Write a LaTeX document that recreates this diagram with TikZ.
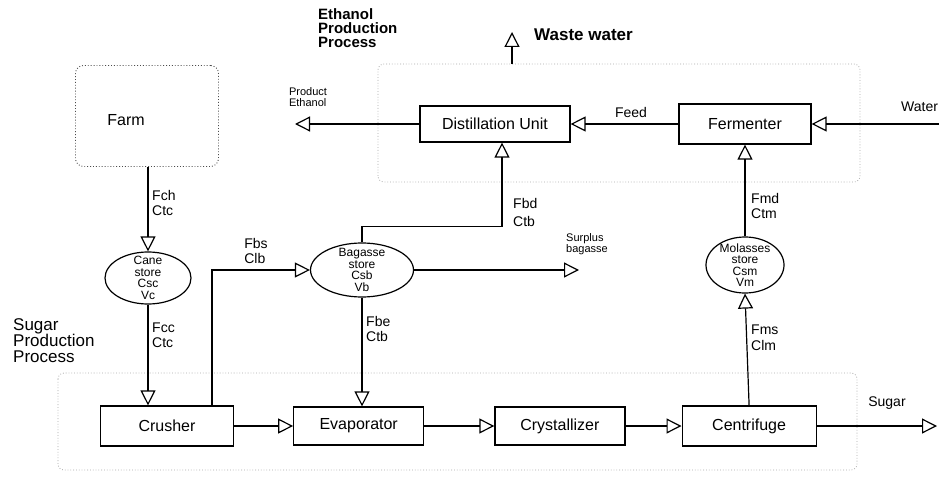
\documentclass[tikz,border=0pt]{standalone}
\usepackage{fontspec}
\setmainfont{Liberation Sans}
\usetikzlibrary{arrows.meta,positioning,shapes.geometric,calc}
\tikzset{
  pf/unit/.style={draw, line width=1.2pt, minimum width=130pt, minimum height=38pt, inner sep=2pt, font=\fontsize{16}{18}\selectfont},
  pf/store/.style={draw, ellipse, line width=1.2pt, inner sep=-8pt, align=center, font=\fontsize{12}{11.5}\selectfont},
  pf/farm/.style={draw, dotted, line width=0.9pt, black!70, text=black, rounded corners=8pt, minimum width=143pt, minimum height=101pt},
  pf/region/.style={black!35, dotted, line width=0.8pt},
  pf/line/.style={line width=1.2pt, -{Triangle[open, length=15pt, width=15pt, line width=1.2pt]}},
  pf/flow/.style={font=\fontsize{14}{15}\selectfont, align=left, inner sep=1pt},
  pf/small/.style={font=\fontsize{11}{11}\selectfont, align=left, inner sep=1pt},
  pf/title/.style={font=\fontsize{17}{16}\selectfont, align=left, inner sep=0pt}
}

\begin{document}
\begin{tikzpicture}[x=1pt, y=-1pt]
  \useasboundingbox (0,0) rectangle (939,481);

  \draw[pf/region, rounded corners=6pt] (378,182) -- (378,64) -- (860,64) -- (860,182) -- cycle;
  \draw[pf/region, rounded corners=6pt] (58,373) rectangle (857,470);

  \node[pf/title, font=\bfseries\fontsize{15}{14}\selectfont, anchor=north west] (ethtitle) at (318,8) {Ethanol\\Production\\Process};
  \node[pf/title, anchor=north west] (sugtitle) at (13,318) {Sugar\\Production\\Process};

  \node[pf/farm] (farm) at (147,116) {};
  \node[font=\fontsize{16}{18}\selectfont] (farmtxt) at (126,120) {Farm};
  \node[pf/store, minimum width=86pt, minimum height=52pt] (cane) at (148,278) {Cane\\store\\Csc\\Vc};

  \node[pf/unit, minimum width=133pt, minimum height=40pt] (crusher) at (167,426) {Crusher};
  \node[pf/unit, right=59pt of crusher] (evap) {Evaporator};
  \node[pf/unit, right=70pt of evap] (cryst) {Crystallizer};
  \node[pf/unit, minimum width=134pt, minimum height=40pt, right=56pt of cryst] (centr) {Centrifuge};

  \node[pf/store, minimum width=103pt, minimum height=54pt] (bag) at (362,270) {Bagasse\\store\\Csb\\Vb};
  \node[pf/store, minimum width=78pt, minimum height=56pt] (mol) at (745,265) {Molasses\\store\\Csm\\Vm};

  \node[pf/unit, minimum width=132pt, minimum height=40pt] (ferm) at (745,124) {Fermenter};
  \node[pf/unit, minimum width=150pt, minimum height=36pt] (dist) at (495,124) {Distillation Unit};

  \coordinate (productout) at (295,124);
  \coordinate (wastebase) at (512,64);
  \coordinate (wasteout) at (512,32);
  \coordinate (waterin) at (939,124);
  \coordinate (surplusout) at (579,270);
  \coordinate (sugarout) at (937,426);

  \draw[pf/line] (farm.south -| cane.north) -- (cane.north);
  \draw[pf/line] (cane.south) -- (cane.south |- crusher.north);
  \draw[pf/line] (crusher) -- (evap);
  \draw[pf/line] ([xshift=45pt]crusher.north) |- (bag.west);
  \draw[pf/line] (bag.south) -- (bag.south |- evap.north);
  \draw[pf/line] (bag.north) -- ++(0,-16) -| ([xshift=7pt]dist.south);
  \draw[pf/line] (bag.east) -- (surplusout);
  \draw[pf/line] (evap) -- (cryst);
  \draw[pf/line] (cryst) -- (centr);
  \draw[pf/line] (centr) -- (sugarout);
  \draw[pf/line] (centr.north) -- (mol.south);
  \draw[pf/line] (mol.north) -- (ferm.south);
  \draw[pf/line] (waterin) -- (ferm.east);
  \draw[pf/line] (ferm.west) -- (dist.east);
  \draw[pf/line] (dist.west) -- (productout);
  \draw[pf/line] (wastebase) -- (wasteout);

  \node[pf/flow, anchor=west] (lblfch) at (151,203) {Fch\\Ctc};
  \node[pf/flow, anchor=west] (lblfcc) at (151,335) {Fcc\\Ctc};
  \node[pf/flow] (lblfbs) at (256,251) {Fbs\\Clb};
  \node[pf/flow, anchor=west] (lblfbe) at (365,329) {Fbe\\Ctb};
  \node[pf/flow, anchor=west, font=\fontsize{14}{18}\selectfont] (lblfbd) at (512,212) {Fbd\\Ctb};
  \node[pf/flow, anchor=west] (lblfmd) at (750,206) {Fmd\\Ctm};
  \node[pf/flow, anchor=west, font=\fontsize{14}{16}\selectfont] (lblfms) at (750,338) {Fms\\Clm};
  \node[pf/flow] (lblfeed) at (631,112) {Feed};
  \node[pf/flow] (lblsugar) at (887,403) {Sugar};
  \node[pf/flow, anchor=west] (lblwater) at (900,107) {Water};
  \node[pf/flow, font=\bfseries\fontsize{17}{18}\selectfont, anchor=west] (lblwaste) at (533,35) {Waste water};
  \node[pf/small] (lblproduct) at (308,97) {Product\\Ethanol};
  \node[pf/small] (lblsurplus) at (587,244) {Surplus\\bagasse};
\end{tikzpicture}
\end{document}
